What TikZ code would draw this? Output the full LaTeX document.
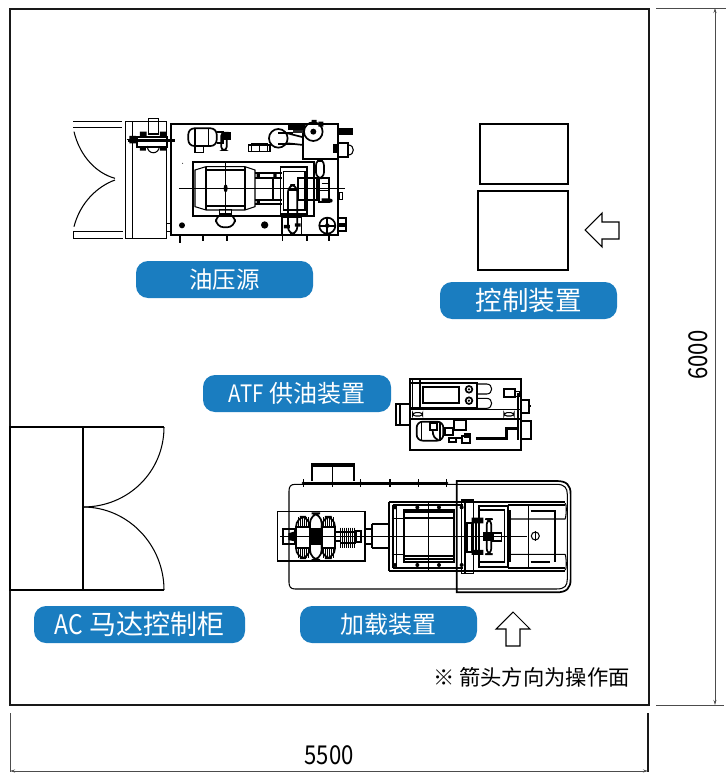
\documentclass[tikz,border=0pt]{standalone}
\usepackage{fontspec}
\newfontfamily\cjk{Noto Sans CJK SC}
\newfontfamily\cjkn[FakeStretch=0.85]{Noto Sans CJK SC}
\usetikzlibrary{arrows.meta}
\definecolor{pillblue}{HTML}{1A7DC0}
\tikzset{
  pill/.style={fill=pillblue,rounded corners=12pt,minimum height=37pt,text=white,inner sep=0pt,font=\cjk\fontsize{23.5}{24}\selectfont},
  frameline/.style={line width=1.2pt,draw=black!90},
  part/.style={line width=1.05pt,draw=black},
  thick part/.style={line width=1.7pt,draw=black},
  fine/.style={line width=.65pt,draw=black},
  dim/.style={line width=.8pt,draw=black!70},
  dimarrow/.style={dim,-{Stealth[length=5pt,width=3pt]}},
  zoomA/.style={shift={(60pt,-110pt)},x=.3333pt,y=-.3333pt},
  zoomB/.style={shift={(390pt,-370pt)},x=.3333pt,y=-.3333pt},
  zoomC/.style={shift={(270pt,-455pt)},x=.3333pt,y=-.3333pt}
}
\begin{document}
\begin{tikzpicture}[x=1pt,y=-1pt]
\useasboundingbox (0,0) rectangle (726,773);
\fill[white] (0,0) rectangle (726,773);
% frame and dimensions
\draw[frameline] (10,9) rectangle (649,705);
\coordinate (tr) at (715,8); \coordinate (br) at (715,705);
\coordinate (bl) at (10,771); \coordinate (brr) at (648,771);
\draw[dim] (656,8) -- (726,8);
\draw[dim] (656,705) -- (724,705);
\draw[dim] (10,713) -- (10,772);
\draw[frameline] (648,713) -- (648,772);
\draw[dimarrow,{Stealth[length=5pt,width=3pt]}-{Stealth[length=5pt,width=3pt]}] (tr) -- (br);
\draw[dimarrow,{Stealth[length=5pt,width=3pt]}-{Stealth[length=5pt,width=3pt]}] (bl) -- (brr);
\node[rotate=90,font=\cjkn\fontsize{26}{26}\selectfont] (d6000) at (698,355) {6000};
\node[font=\cjkn\fontsize{26}{26}\selectfont] (d5500) at (329,755) {5500};
% labels
\node[pill,minimum width=177pt] (l1) at (224.5,279.5) {油压源};
\node[pill,minimum width=177pt,font=\cjk\fontsize{26.5}{27}\selectfont] (l2) at (528.5,300.5) {控制装置};
\node[pill,minimum width=188pt,font=\cjk\fontsize{24}{24}\selectfont] (l3) at (297,393.5) {{\cjkn ATF} 供油装置};
\node[pill,minimum width=211pt,font=\cjk\fontsize{27}{27}\selectfont] (l4) at (139.5,624.5) {{\cjkn AC} 马达控制柜};
\node[pill,minimum width=177pt,font=\cjk\fontsize{24}{24}\selectfont] (l5) at (388.5,624.5) {加载装置};
\node[font=\cjk\fontsize{21.3}{22}\selectfont,inner sep=0pt] (note) at (531.5,677) {※ 箭头方向为操作面};
% control boxes and arrows
\draw[part] (480,124) rectangle (568,184);
\draw[part] (478,191) rectangle (568,270);
\draw[part,line join=miter] (585,230) -- (602,213) -- (602,222) -- (619,222) -- (619,239) -- (602,239) -- (602,247) -- cycle;
\draw[part,line join=miter] (513,612) -- (496,629) -- (506,629) -- (506,646) -- (520,646) -- (520,629) -- (530,629) -- cycle;
% AC cabinet
\draw[part] (10,427) rectangle (83,590);
\draw[part] (83,427) -- (164,427);
\draw[part] (83,590) -- (164,590);
\draw[part] (164,590) .. controls (164,545) and (128,507) .. (83,507);
\draw[part] (164,427) .. controls (164,472) and (128,507) .. (83,507);
% hydraulic unit
\begin{scope}[zoomA]
\draw[part] (40,35) -- (185,35) (40,53) -- (185,53);
\draw[part] (40,365) -- (188,365) (40,385) -- (188,385) (40,365) -- (40,385);
\draw[part] (42,65) .. controls (60,140) and (110,190) .. (165,205);
\draw[part] (42,350) .. controls (60,280) and (110,230) .. (165,210);
\draw[part] (197,35) rectangle (320,385);
\draw[part] (217,35) -- (217,385);
\draw[thick part] (333,42) rectangle (835,375);
% valve on panel
\draw[part] (265,25) rectangle (295,72);
\draw[part] (262,108) .. controls (262,135) and (298,135) .. (298,108);
\draw[thick part] (205,92) -- (345,92);
\draw[thick part] (232,80) rectangle (320,110);
\fill (240,65) rectangle (260,80) (300,65) rectangle (318,80) (240,110) rectangle (258,122) (300,110) rectangle (318,122) (208,78) rectangle (228,100);
\draw[fine] (200,88) -- (345,88);
% top motor
\draw[thick part,rounded corners=6pt] (385,55) rectangle (470,108);
\draw[part] (405,55) -- (405,108) (445,55) -- (445,108);
\draw[part] (405,108) rectangle (430,128);
\draw[thick part] (470,65) -- (490,65) -- (490,100) -- (470,100);
\draw[thick part,rounded corners=3pt] (484,68) rectangle (500,120);
\fill (490,66) rectangle (512,90);
% block
\draw[part] (565,105) rectangle (630,125) (598,105) -- (598,125);
\draw[fine] (575,100) rectangle (622,125);
% pump top
\draw[thick part] (655,85) circle[radius=28];
\draw[thick part] (683,70) -- (730,82) (683,100) -- (730,105);
\draw[thick part] (655,70) -- (700,70) (655,102) -- (700,102);
\draw[thick part] (730,42) -- (730,148) -- (835,148);
\fill (685,42) rectangle (735,60);
\fill[black!85] (700,60) rectangle (735,68);
\draw[thick part] (760,65) circle[radius=28];
\fill (760,65) circle[radius=9];
\fill (755,30) rectangle (770,45) (775,35) rectangle (790,50);
\fill (838,55) rectangle (880,75);
\draw[thick part] (835,100) rectangle (865,140);
\draw[part] (865,105) .. controls (885,105) and (885,135) .. (865,135);
\fill (820,102) rectangle (838,128);
% large motor
\draw[thick part] (398,155) rectangle (762,318);
\draw[part] (438,170) -- (405,180) -- (405,290) -- (438,300) -- (555,300) -- (585,290) -- (585,180) -- (555,170) -- cycle;
\draw[part] (438,170) -- (438,300) (555,170) -- (555,300);
\draw[part] (438,180) -- (555,180) (438,288) -- (555,288);
\draw[thick part] (400,215) -- (400,260);
\draw[fine] (358,235) -- (855,235) (497,160) -- (497,310);
\fill (497,235) ellipse[x radius=6,y radius=12];
\draw[thick part] (585,190) -- (665,190) (585,205) -- (665,205) (585,270) -- (665,270) (585,282) -- (665,282);
\draw[thick part] (640,205) -- (640,270);
\fill (590,190) rectangle (600,205) (590,268) rectangle (600,282) (640,190) rectangle (650,205);
% coupling
\draw[thick part] (662,170) rectangle (742,312);
\draw[part] (670,185) rectangle (735,300);
\draw[thick part] (715,205) rectangle (772,270);
\draw[thick part,rounded corners=7pt] (684,225) rectangle (712,372);
\draw[part] (688,240) -- (708,240);
\draw[thick part] (667,320) rectangle (725,375);
\fill (672,345) rectangle (690,355) (705,340) rectangle (722,350);
\draw[thick part,rounded corners=6pt] (768,148) rectangle (792,205);
\draw[thick part] (778,205) rectangle (808,275);
\draw[fine] (770,240) -- (810,240) (785,220) -- (805,220);
\fill (812,272) circle[radius=6] (785,265) rectangle (805,275);
\fill (770,146) rectangle (790,155);
% bottom
\draw[thick part,rounded corners=8pt] (468,312) rectangle (525,352);
\draw[part] (478,298) rectangle (515,312);
\fill (366,346) circle[radius=9] (614,345) circle[radius=11];
\draw[thick part] (802,347) circle[radius=24];
\draw[thick part] (778,347) -- (826,347) (802,323) -- (802,371);
\fill (802,347) circle[radius=7];
\draw[thick part] (835,325) rectangle (858,362);
\fill (838,338) rectangle (855,350);
\draw[part] (320,340) rectangle (333,365);
\draw[part] (838,248) rectangle (848,268);
\draw[thick part] (360,375) -- (360,400) (428,375) -- (428,392) (500,375) -- (500,392) (668,375) -- (668,392) (742,375) -- (742,392) (808,375) -- (808,392);
\fill (368,160) circle[radius=1.5];
\end{scope}
% ATF unit
\begin{scope}[zoomB]
\draw[thick part] (60,28) rectangle (392,240);
\draw[thick part] (60,38) -- (262,38) -- (262,115) -- (60,115);
\draw[part] (68,28) -- (68,115) (90,28) -- (90,115);
\draw[thick part] (100,50) rectangle (208,100);
\draw[thick part] (237,58) circle[radius=10] (237,92) circle[radius=10];
\fill (237,58) circle[radius=4] (237,92) circle[radius=4];
\draw[part] (262,42) -- (290,42) .. controls (310,42) and (310,72) .. (290,72) -- (262,72);
\draw[part] (262,85) -- (290,85) .. controls (310,85) and (310,115) .. (290,115) -- (262,115);
\draw[part] (60,118) -- (392,118);
\draw[thick part] (60,146) -- (392,146);
\draw[thick part] (18,102) rectangle (60,165);
\draw[part] (30,102) -- (30,165);
\draw[part,rounded corners=3pt] (68,128) rectangle (98,138) (342,128) rectangle (372,138);
\draw[thick part] (343,58) rectangle (375,82);
\draw[part] (375,65) rectangle (390,80);
\draw[line width=1.8pt] (385,70) -- (385,210);
\draw[thick part] (392,90) rectangle (418,128);
\fill (418,104) rectangle (424,112);
\draw[thick part] (392,152) rectangle (424,207);
\draw[thick part,rounded corners=6pt] (80,155) rectangle (160,212);
\draw[part] (95,155) -- (95,212) (150,155) -- (150,212);
\draw[thick part] (120,160) rectangle (140,180);
\draw[thick part] (128,180) .. controls (128,200) and (135,205) .. (145,210);
\draw[thick part] (192,150) rectangle (228,180);
\draw[thick part] (165,175) rectangle (190,195);
\draw[thick part] (178,203) rectangle (198,215);
\draw[thick part] (198,205) -- (218,205) (215,198) rectangle (240,220) (225,192) rectangle (240,200);
\draw[thick part] (258,208) -- (352,208) -- (352,178) -- (385,178);
\draw[part] (258,203) -- (347,203) -- (347,173) -- (385,173);
\end{scope}
% loader
\begin{scope}[zoomC]
\draw[part] (560,88) -- (75,88) .. controls (62,88) and (57,95) .. (57,108) -- (57,382) .. controls (57,395) and (62,402) .. (75,402) -- (560,402);
\draw[thick part] (560,412) -- (560,78) -- (860,78) .. controls (890,78) and (902,90) .. (902,118) -- (902,372) .. controls (902,400) and (890,412) .. (860,412) -- cycle;
\draw[part] (560,88) -- (860,88) .. controls (885,88) and (892,100) .. (892,118) -- (892,372) .. controls (892,392) and (885,402) .. (860,402) -- (560,402);
\draw[thick part] (127,78) -- (127,28) -- (252,28) -- (252,78);
\draw[part] (188,28) -- (188,78);
\draw[thick part] (127,33) -- (252,33);
\draw[thick part] (100,84) -- (530,84);
\foreach \xx in {100,187,272,360,445,530} {\fill (\xx,84) circle[radius=5]; \draw[part] (\xx,72) -- (\xx,96);}
\draw[part] (22,170) rectangle (285,318);
% motor left
\draw[thick part] (38,222) rectangle (75,266);
\fill (55,235) -- (78,228) -- (78,260) -- (55,255) -- cycle;
\draw[thick part,rounded corners=10pt] (78,185) rectangle (120,310);
\draw[thick part,rounded corners=10pt] (155,185) rectangle (195,310);
\foreach \xx in {84,90,...,114,160,166,...,190} {\draw[fine] (\xx,187) -- (\xx,215) (\xx,280) -- (\xx,308);}
\draw[thick part] (78,215) rectangle (120,278);
\draw[thick part,rounded corners=10pt] (120,175) rectangle (155,315);
\foreach \xx in {124,128,...,152} {\draw[line width=1.2pt] (\xx,220) -- (\xx,270);}
\draw[thick part] (155,215) rectangle (195,278);
\foreach \xx in {212,218,...,258} {\draw[line width=1pt] (\xx,218) -- (\xx,278);}
\draw[thick part] (212,230) -- (258,230) (212,265) -- (258,265);
\draw[thick part] (195,232) -- (212,232) (195,258) -- (212,258);
\draw[thick part] (258,228) rectangle (272,262);
\draw[fine] (30,243) -- (770,243);
% coupling
\draw[thick part] (285,222) rectangle (305,268);
\draw[thick part] (305,208) -- (358,208) (305,280) -- (358,280) (305,208) -- (305,280);
% main box
\draw[line width=2.2pt] (358,142) -- (885,142) (358,347) -- (885,347) (358,142) -- (358,347);
\draw[thick part] (368,150) -- (580,150) (368,338) -- (580,338) (368,150) -- (368,338);
\draw[thick part] (403,165) rectangle (552,320);
\draw[thick part] (403,172) -- (552,172) (403,188) -- (552,188) (403,302) -- (552,302) (403,312) -- (552,312);
\draw[fine] (475,140) -- (475,350) (378,150) -- (378,338);
\draw[part] (365,190) -- (400,190) (365,298) -- (400,298);
\foreach \xx in {375,442,507,575} {\fill (\xx,157) circle[radius=6] (\xx,330) circle[radius=6];}
\draw[part] (575,135) rectangle (610,355);
\draw[thick part] (585,135) -- (585,355);
\draw[thick part] (590,205) rectangle (605,290);
\draw[thick part] (618,205) -- (618,285);
\fill (605,188) rectangle (640,205) (605,285) rectangle (640,300);
\draw[thick part,rounded corners=6pt] (650,192) rectangle (664,298);
\fill (640,232) rectangle (672,258);
\draw[thick part] (668,233) rectangle (695,257);
% right part
\draw[thick part] (628,152) rectangle (715,335);
\draw[thick part] (628,165) -- (704,165) -- (704,322) -- (628,322);
\draw[thick part] (715,150) -- (885,150) (715,338) -- (885,338);
\draw[part] (885,145) .. controls (892,145) and (888,192) .. (885,192) -- (720,192);
\draw[part] (885,345) .. controls (892,345) and (888,298) .. (885,298) -- (720,298);
\draw[part] (720,165) -- (720,322) (775,150) -- (775,338);
\draw[thick part] (782,168) -- (855,168) (855,165) -- (855,322) (782,322) -- (840,322);
\draw[part] (796,243) circle[radius=12];
\draw[fine] (796,228) -- (796,258);
\end{scope}
\end{tikzpicture}
\end{document}
